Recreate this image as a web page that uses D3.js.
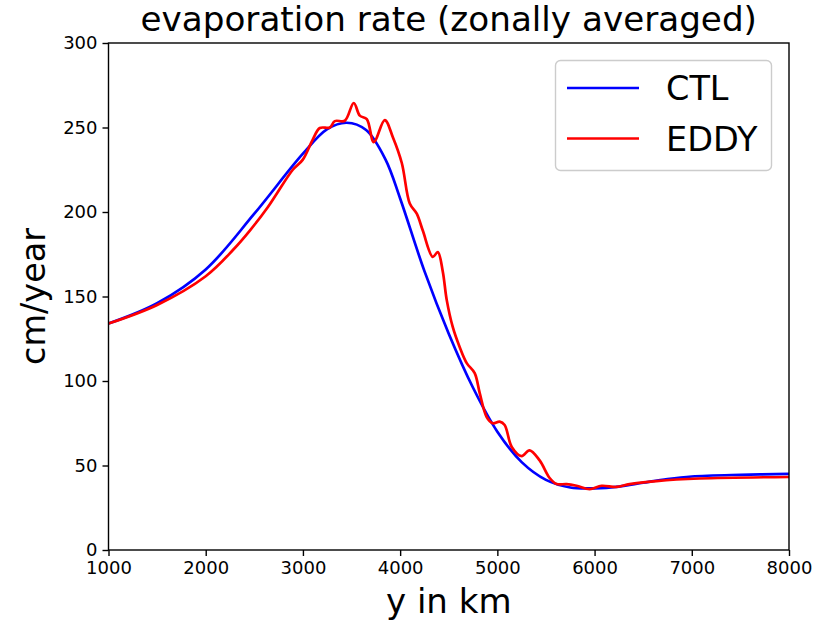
<!DOCTYPE html>
<html>
<head>
<meta charset="utf-8">
<script src="https://cdn.jsdelivr.net/npm/d3@7"></script>
<style>
  html, body { margin: 0; padding: 0; background: #fff; }
  svg { display: block; font-family: "DejaVu Sans", sans-serif; }
</style>
</head>
<body>
<svg id="chart" width="822" height="623"></svg>
<script>
// Zonally averaged evaporation rate (cm/year) versus meridional distance (km)
const ctlY   = [1000, 1500, 2000, 2500, 3000, 3250, 3450, 3650, 3850, 4000, 4250, 4500, 4750, 5000, 5250, 5500, 5750, 6000, 6250, 6500, 6750, 7000, 7500, 8000];
const ctlVal = [134,  146,  166,  199,  234.5, 249, 252.8, 248.5, 231, 208, 165, 128, 96, 70, 52, 41.5, 37, 36.5, 37.5, 39.8, 42, 43.5, 44.5, 45];

const eddyY   = [1000, 1500, 2000, 2280, 2454, 2640, 2732, 2896, 2999, 3102, 3174, 3277, 3328, 3431, 3523, 3585, 3657, 3729, 3842, 3924, 4017, 4099, 4171, 4233, 4336, 4387, 4438, 4479, 4541, 4613, 4685, 4767, 4818, 4890, 4952, 5024, 5075, 5148, 5250, 5332, 5435, 5538, 5610, 5712, 5815, 5949, 6072, 6226, 6360, 6637, 7079, 8000];
const eddyVal = [134,  145,  162,  177.5, 189, 203, 211, 225, 231, 243, 249.7, 250, 253.8, 254, 264.5, 257, 255, 241.4, 254.4, 244.4, 229, 205, 199, 189, 173.4, 176.3, 165, 148, 132, 120, 110.6, 104.7, 93, 78.7, 75, 76, 74, 61, 55.6, 59, 53, 42.6, 39, 39, 38, 36, 38, 37.3, 39, 40.8, 42.3, 43.2];

const xTicks = [1000, 2000, 3000, 4000, 5000, 6000, 7000, 8000];
const yTicks = [0, 50, 100, 150, 200, 250, 300];

const seriesNames  = ["CTL", "EDDY"];
const seriesColors = ["#0000ff", "#ff0000"];

const svg = d3.select("#chart");
const margin = { left: 108.5, right: 33, top: 43, bottom: 73 };
const W = 822, H = 623;

const x = d3.scaleLinear().domain([1000, 8000]).range([margin.left, W - margin.right]);
const y = d3.scaleLinear().domain([0, 300]).range([H - margin.bottom, margin.top]);

// axes
const xAxis = d3.axisBottom(x).tickValues(xTicks).tickFormat(d3.format("d")).tickSize(6).tickPadding(5);
const yAxis = d3.axisLeft(y).tickValues(yTicks).tickFormat(d3.format("d")).tickSize(6).tickPadding(5);

const gx = svg.append("g").attr("transform", `translate(0,${y(0)})`).call(xAxis);
const gy = svg.append("g").attr("transform", `translate(${x(1000)},0)`).call(yAxis);
[gx, gy].forEach(g => {
  g.select(".domain").remove();
  g.selectAll("line").attr("stroke", "#000").attr("stroke-width", 1.4);
  g.selectAll("text").attr("font-size", 18).attr("font-family", "DejaVu Sans").attr("fill", "#000");
});

// data lines
const line = d3.line().x(d => x(d[0])).y(d => y(d[1])).curve(d3.curveCatmullRom.alpha(0.5));
const series = [
  d3.zip(ctlY, ctlVal),
  d3.zip(eddyY, eddyVal)
];
const plot = svg.append("g");
series.forEach((s, i) => {
  plot.append("path").datum(s)
    .attr("d", line)
    .attr("fill", "none")
    .attr("stroke", seriesColors[i])
    .attr("stroke-width", 2.7)
    .attr("stroke-linejoin", "round");
});

// frame
svg.append("rect")
  .attr("x", x(1000)).attr("y", y(300))
  .attr("width", x(8000) - x(1000)).attr("height", y(0) - y(300))
  .attr("fill", "none").attr("stroke", "#000").attr("stroke-width", 1.4);

// title and axis labels
svg.append("text").attr("x", (x(1000) + x(8000)) / 2).attr("y", 31)
  .attr("text-anchor", "middle").attr("font-size", 34.2).attr("fill", "#000")
  .text("evaporation rate (zonally averaged)");
svg.append("text").attr("x", (x(1000) + x(8000)) / 2).attr("y", 613)
  .attr("text-anchor", "middle").attr("font-size", 34).attr("fill", "#000")
  .text("y in km");
svg.append("text")
  .attr("transform", `translate(45,${(y(0) + y(300)) / 2}) rotate(-90)`)
  .attr("text-anchor", "middle").attr("font-size", 33.5).attr("fill", "#000")
  .text("cm/year");

// legend
const lg = svg.append("g");
lg.append("rect").attr("x", 555.5).attr("y", 60.5).attr("width", 216).attr("height", 110)
  .attr("rx", 5).attr("fill", "#fff").attr("fill-opacity", 0.8)
  .attr("stroke", "#cccccc").attr("stroke-width", 1.4);
seriesNames.forEach((name, i) => {
  const yy = 88 + i * 50.5;
  lg.append("line").attr("x1", 567).attr("x2", 639).attr("y1", yy).attr("y2", yy)
    .attr("stroke", seriesColors[i]).attr("stroke-width", 2.7);
  lg.append("text").attr("x", 666).attr("y", yy + 12).attr("font-size", 33.5).attr("fill", "#000").text(name);
});
</script>
</body>
</html>
